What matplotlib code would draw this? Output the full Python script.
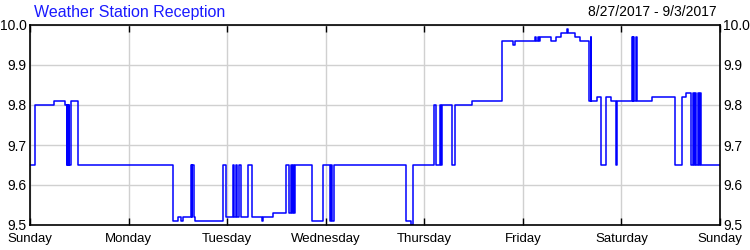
import matplotlib
matplotlib.use("Agg")
import matplotlib.pyplot as plt

# hours since Sunday 00:00 and signal level (step-post)
hours = [0, 1.22, 5.77, 8.45, 8.89, 9.13, 9.25, 9.42, 9.57, 9.91, 11.69,
         34.89, 36.03, 36.77, 37.25, 39.13, 39.37, 39.52, 39.86, 40.17,
         46.92, 47.65, 49.35, 49.60, 50.16, 50.47, 50.96, 51.30, 53.08, 53.98,
         56.41, 56.80, 59.24, 62.26, 63.06, 63.48, 63.86, 64.11, 64.28, 64.52,
         68.73, 71.27, 73.12, 73.36, 73.60, 74.02,
         91.47, 92.69, 93.18, 98.44, 98.85, 99.83, 100.07, 100.24, 102.82, 103.41,
         107.69, 114.85, 117.48, 118.09, 122.96, 123.32, 123.69, 123.93, 124.17,
         126.85, 127.99, 129.29, 130.82, 131.06, 132.70, 134.03,
         136.18, 136.47, 136.71, 137.98, 138.95, 140.17, 141.34, 142.60, 142.85,
         146.50, 146.70, 146.89, 147.13, 147.55, 147.72,
         151.56, 156.97, 158.75, 159.72, 160.94, 161.43, 161.67, 161.91, 162.15,
         162.71, 162.88, 163.13, 163.37, 168]
level = [9.65, 9.80, 9.81, 9.80, 9.65, 9.80, 9.65, 9.80, 9.65, 9.81, 9.65,
         9.51, 9.52, 9.51, 9.52, 9.65, 9.52, 9.65, 9.52, 9.51,
         9.65, 9.52, 9.65, 9.52, 9.65, 9.52, 9.65, 9.52, 9.65, 9.52,
         9.51, 9.52, 9.53, 9.65, 9.53, 9.65, 9.53, 9.65, 9.53, 9.65,
         9.51, 9.65, 9.51, 9.65, 9.51, 9.65,
         9.51, 9.50, 9.65, 9.80, 9.65, 9.80, 9.65, 9.80, 9.65, 9.80,
         9.81, 9.96, 9.95, 9.96, 9.97, 9.96, 9.97, 9.96, 9.97,
         9.96, 9.97, 9.98, 9.99, 9.98, 9.97, 9.96,
         9.81, 9.97, 9.81, 9.82, 9.65, 9.82, 9.81, 9.65, 9.81,
         9.97, 9.81, 9.97, 9.81, 9.97, 9.81,
         9.82, 9.65, 9.82, 9.83, 9.65, 9.83, 9.65, 9.83, 9.65,
         9.83, 9.65, 9.83, 9.65, 9.65]

day_labels = ["Sunday", "Monday", "Tuesday", "Wednesday", "Thursday",
              "Friday", "Saturday", "Sunday"]
y_ticks = [9.5, 9.6, 9.7, 9.8, 9.9, 10.0]

plt.rcParams['font.family'] = ['Liberation Sans', 'DejaVu Sans']

fig = plt.figure(figsize=(7.5, 2.5), dpi=100)
ax = fig.add_axes([0.04, 0.1, 0.92, 0.8])

ax.step(hours, level, where='post', color='#0000ff', linewidth=1.1)

ax.set_xlim(0, 168)
ax.set_ylim(9.5, 10.0)
ax.set_xticks([24 * i for i in range(len(day_labels))])
ax.set_xticklabels(day_labels, fontsize=9.5)
ax.set_yticks(y_ticks)
ax.set_yticklabels(["%.1f" % v for v in y_ticks], fontsize=10)

ax.grid(True, color='#d0d0d0', linewidth=1)
ax.set_axisbelow(True)
ax.tick_params(axis='x', top=True, direction='in', length=5, width=1, pad=6)
ax.tick_params(axis='y', length=0, labelright=True, pad=2.5)
for s in ax.spines.values():
    s.set_linewidth(1.2)
    s.set_color('black')

fig.text(34 / 750, 1 - 12 / 250, "Weather Station Reception", color='#1a1aff',
         fontsize=11.5, ha='left', va='center')
fig.text(717 / 750, 1 - 12 / 250, "8/27/2017 - 9/3/2017", color='black',
         fontsize=10, ha='right', va='center')

fig.savefig("out.png", dpi=100)
